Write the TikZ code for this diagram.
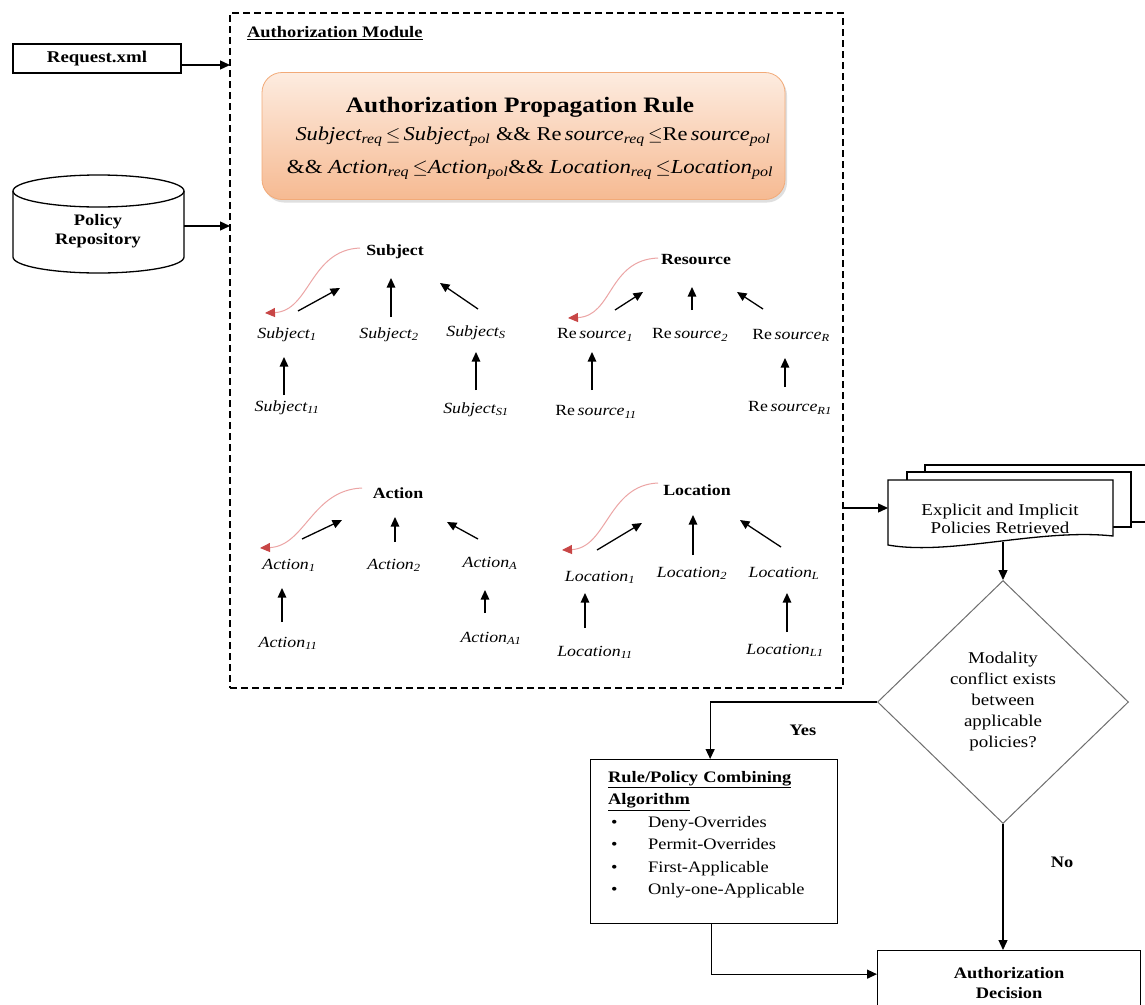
\documentclass[tikz,border=0pt]{standalone}
\usepackage{fontspec}
\setmainfont{Liberation Serif}[FakeStretch=1.15]
\usepackage{graphicx}
\usetikzlibrary{arrows.meta,shapes.geometric,shadows,calc}
\definecolor{boxtop}{RGB}{253,236,224}
\definecolor{boxbot}{RGB}{246,186,146}
\definecolor{boxline}{RGB}{242,170,120}
\definecolor{redline}{RGB}{236,165,165}
\definecolor{redtip}{RGB}{200,70,70}
\definecolor{diaedge}{RGB}{110,110,110}
\newcommand\fsz[2]{\fontsize{#1}{#2}\selectfont}
\newcommand\sbs[1]{\textsubscript{\itshape #1}}
\tikzset{
 tarr/.style={line width=1.3pt, -{Triangle[length=9.5pt,width=8.5pt]}},
 farr/.style={line width=1.3pt, -{Triangle[length=10pt,width=9pt]}},
 redc/.style={draw=redline, line width=1pt, -{Triangle[length=10pt,width=9pt,color=redtip]}},
 blab/.style={inner sep=0, font=\fsz{15.5}{17}\bfseries},
 ilab/.style={inner sep=0, font=\fsz{15.5}{17}\itshape},
 ftext/.style={inner sep=0, align=center, font=\fsz{16.5}{21}},
 bx/.style={draw, line width=1.3pt, inner sep=0},
}
\begin{document}
\begin{tikzpicture}[x=1pt,y=-1pt]
\path[use as bounding box] (0,0) rectangle (1145,1004);
\clip (0,0) rectangle (1145,1004);
\fill[white] (0,0) rectangle (1145,1004);

% module box
\node[draw, dash pattern=on 7pt off 4pt, line width=1.3pt, minimum width=613pt, minimum height=675pt, anchor=north west, inner sep=0, outer sep=0] (mod) at (230,13) {};
\node[anchor=west, inner sep=0, font=\fsz{16}{18}\bfseries] (modlab) at (247,33) {\underline{Authorization Module}};

% request
\node[bx, minimum width=168pt, minimum height=29pt, font=\fsz{16.4}{18}\bfseries] (req) at (97,58.5) {Request.xml};
\coordinate (reqout) at ([shift={(0,6.5)}]req.east);
\draw[farr] (reqout) -- (reqout -| mod.west);

% repository cylinder
\draw[line width=1.3pt, fill=white] (13,191) -- (13,257) arc[start angle=180, end angle=0, x radius=85.5, y radius=16] -- (184,191);
\draw[line width=1.3pt] (98.5,191) ellipse[x radius=85.5, y radius=16];
\node[ftext, font=\fsz{16}{18.5}\bfseries] (repo) at (98,231) {Policy\\Repository};
\coordinate (repoout) at (184,226);
\draw[farr] (repoout) -- (repoout -| mod.west);

% propagation rule box
\node[rounded corners=20pt, minimum width=523pt, minimum height=127pt, draw=boxline, line width=0.8pt, top color=boxtop, bottom color=boxbot, drop shadow={opacity=0.25, shadow xshift=2pt, shadow yshift=-3pt}] (apr) at (523.5,136) {};
\node[inner sep=0, font=\fsz{22}{24}\bfseries] (aprt) at (520,107) {Authorization Propagation Rule};
\node[inner sep=0] (f1) at (533,137) {\resizebox{475pt}{!}{\fsz{18}{20}\itshape Subject\sbs{req}\,$\leq$\,Subject\sbs{pol}\ {\upshape\&\&} {\upshape Re}\,source\sbs{req}\,$\leq${\upshape Re}\,source\sbs{pol}}};
\node[inner sep=0] (f2) at (530,170) {\resizebox{486pt}{!}{\fsz{21}{23}\itshape {\upshape\&\&} Action\sbs{req}\,$\leq$Action\sbs{pol}{\upshape\&\&} Location\sbs{req}\,$\leq$Location\sbs{pol}}};

% Subject tree
\node[blab] (subj) at (395,252) {Subject};
\node[ilab] (s1) at (287,335) {Subject\sbs{1}};
\node[ilab] (s2) at (389,335) {Subject\sbs{2}};
\node[ilab] (s3) at (476,333) {Subject\sbs{S}};
\node[ilab] (s11) at (287,408) {Subject\sbs{11}};
\node[ilab] (s31) at (476,410) {Subject\sbs{S1}};
\draw[tarr] ([shift={(11,-24)}]s1.center) -- ([shift={(-55,36)}]subj.center);
\draw[tarr] ([shift={(2,-18)}]s2.center) -- ([shift={(-4,26)}]subj.center);
\draw[tarr] ([shift={(2,-24)}]s3.center) -- ([shift={(45,31)}]subj.center);
\draw[tarr] ([shift={(-3,-13)}]s11.center) -- ([shift={(-3,22)}]s1.center);
\draw[tarr] ([shift={(0,-20)}]s31.center) -- ([shift={(0,19)}]s3.center);
\draw[redc] ([shift={(-35,-4)}]subj.center) .. controls +(-50,2) and +(45,-2) .. ([shift={(-22,-22)}]s1.center);

% Resource tree
\node[blab] (res) at (696,260) {Resource};
\node[ilab] (r1) at (595,335) {{\upshape Re}\,source\sbs{1}};
\node[ilab] (r2) at (690,335) {{\upshape Re}\,source\sbs{2}};
\node[ilab] (rR) at (791,335) {{\upshape Re}\,source\sbs{R}};
\node[ilab] (r11) at (596,412) {{\upshape Re}\,source\sbs{11}};
\node[ilab] (rR1) at (790,408) {{\upshape Re}\,source\sbs{R1}};
\draw[tarr] ([shift={(20,-25)}]r1.center) -- ([shift={(-53,32)}]res.center);
\draw[tarr] ([shift={(2,-25)}]r2.center) -- ([shift={(-4,27)}]res.center);
\draw[tarr] ([shift={(-28,-26)}]rR.center) -- ([shift={(41,32)}]res.center);
\draw[tarr] ([shift={(-4,-22)}]r11.center) -- ([shift={(-3,17)}]r1.center);
\draw[tarr] ([shift={(-5,-21)}]rR1.center) -- ([shift={(-6,23)}]rR.center);
\draw[redc] ([shift={(-38,-2)}]res.center) .. controls +(-50,2) and +(45,-2) .. ([shift={(-27,-17)}]r1.center);

% Action tree
\node[blab] (act) at (398,493) {Action};
\node[ilab] (a1) at (289,565) {Action\sbs{1}};
\node[ilab] (a2) at (394,565) {Action\sbs{2}};
\node[ilab] (aA) at (490,563) {Action\sbs{A}};
\node[ilab] (a11) at (288,643) {Action\sbs{11}};
\node[ilab] (aA1) at (491,638) {Action\sbs{A1}};
\draw[tarr] ([shift={(13,-26)}]a1.center) -- ([shift={(-56,27)}]act.center);
\draw[tarr] ([shift={(1,-23)}]a2.center) -- ([shift={(-3,24)}]act.center);
\draw[tarr] ([shift={(-12,-24)}]aA.center) -- ([shift={(49,29)}]act.center);
\draw[tarr] ([shift={(-6,-21)}]a11.center) -- ([shift={(-7,23)}]a1.center);
\draw[tarr] ([shift={(-6,-25)}]aA1.center) -- ([shift={(-5,27)}]aA.center);
\draw[redc] ([shift={(-36,-5)}]act.center) .. controls +(-50,2) and +(45,-2) .. ([shift={(-29,-17)}]a1.center);

% Location tree
\node[blab] (loc) at (697,490) {Location};
\node[ilab] (l1) at (600,577) {Location\sbs{1}};
\node[ilab] (l2) at (692,573) {Location\sbs{2}};
\node[ilab] (lL) at (784,573) {Location\sbs{L}};
\node[ilab] (l11) at (595,652) {Location\sbs{11}};
\node[ilab] (lL1) at (785,650) {Location\sbs{L1}};
\draw[tarr] ([shift={(-3,-27)}]l1.center) -- ([shift={(-55,33)}]loc.center);
\draw[tarr] ([shift={(1,-18)}]l2.center) -- ([shift={(-4,25)}]loc.center);
\draw[tarr] ([shift={(-3,-26)}]lL.center) -- ([shift={(43,30)}]loc.center);
\draw[tarr] ([shift={(-10,-24)}]l11.center) -- ([shift={(-15,16)}]l1.center);
\draw[tarr] ([shift={(2,-18)}]lL1.center) -- ([shift={(3,20)}]lL.center);
\draw[redc] ([shift={(-39,-7)}]loc.center) .. controls +(-50,2) and +(45,-2) .. ([shift={(-38,-27)}]l1.center);

% multi-document
\draw[line width=1.3pt, fill=white] (925,465) rectangle (1160,522);
\draw[line width=1.3pt, fill=white] (907,472) rectangle (1131,527);
\draw[line width=1.3pt, fill=white] (888,480) -- (1113,480) -- (1113,536) .. controls (1040,528) and (950,556) .. (888,545) -- cycle;
\node[ftext, font=\fsz{16.5}{18}] (doc) at (1000,519) {Explicit and Implicit\\Policies Retrieved};
\coordinate (docW) at (888,508);
\coordinate (docS) at (1003,542);
\draw[farr] (mod.east |- docW) -- (docW);

% decision diamond
\node[diamond, draw=diaedge, line width=1pt, minimum width=251pt, minimum height=243pt, inner sep=0, align=center, font=\fsz{16.5}{21}] (dia) at (1003,702) {Modality\\conflict exists\\between\\applicable\\policies?};
\draw[farr] (docS) -- (dia.north);

% rule box
\node[bx, minimum width=247pt, minimum height=164pt, anchor=north west] (rule) at (590,759) {};
\node[anchor=north west, inner sep=0, text width=225pt, align=left, font=\fsz{16}{22.5}] (rtxt) at (608,771) {\textbf{\underline{Rule/Policy Combining}}\\\textbf{\underline{Algorithm}}\\\makebox[40pt][l]{\hspace{3pt}\textbullet}Deny-Overrides\\\makebox[40pt][l]{\hspace{3pt}\textbullet}Permit-Overrides\\\makebox[40pt][l]{\hspace{3pt}\textbullet}First-Applicable\\\makebox[40pt][l]{\hspace{3pt}\textbullet}Only-one-Applicable};

% authorization decision
\node[bx, minimum width=263pt, minimum height=65pt, anchor=north west, align=center, font=\fsz{16}{20}\bfseries] (dec) at (877,950) {Authorization\\Decision};

% flow connectors
\draw[farr] (dia.west) -| ([xshift=-4pt]rule.north);
\node[inner sep=0, font=\fsz{16}{18}\bfseries] (yes) at (803,730) {Yes};
\draw[farr] (dia.south) -- (dia.south |- dec.north);
\node[inner sep=0, font=\fsz{16}{18}\bfseries] (no) at (1062,862) {No};
\coordinate (decin) at ([shift={(0,-9)}]dec.west);
\draw[farr] ([xshift=-3pt]rule.south) |- (decin);
\end{tikzpicture}
\end{document}
